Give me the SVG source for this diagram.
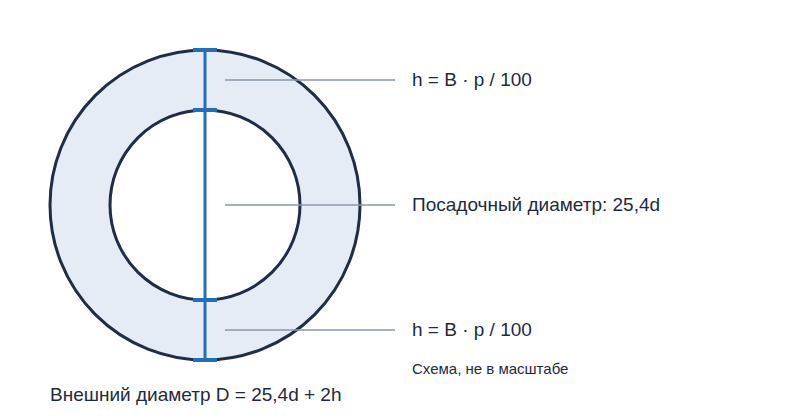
<svg xmlns="http://www.w3.org/2000/svg" width="800" height="420" viewBox="0 0 800 420">
<style>
.lbl{font-family:"Liberation Sans",Arial,sans-serif;font-size:19px;fill:#1f2a3c}
.note{font-family:"Liberation Sans",Arial,sans-serif;font-size:15px;fill:#1f2a3c}
.lead{stroke:#8a97a8;stroke-width:1.5;fill:none}
.dim{stroke:#1f6fbf;stroke-width:3;fill:none}
.tick{stroke:#1f6fbf;stroke-width:4;fill:none}
</style>
<rect width="800" height="420" fill="#ffffff"/>
<g id="outer-ring">
<circle cx="205" cy="205" r="155" fill="#e6ecf6" stroke="#1f2d45" stroke-width="3"/>
</g>
<g id="inner-bore">
<circle cx="205" cy="205" r="95" fill="#ffffff" stroke="#1f2d45" stroke-width="3"/>
</g>
<g id="connectors">
<line class="dim" x1="205" y1="50" x2="205" y2="360"/>
<line class="tick" x1="193" y1="50" x2="217" y2="50"/>
<line class="tick" x1="193" y1="110" x2="217" y2="110"/>
<line class="tick" x1="193" y1="300" x2="217" y2="300"/>
<line class="tick" x1="193" y1="360" x2="217" y2="360"/>
<line class="lead" x1="225" y1="80" x2="395" y2="80"/>
<line class="lead" x1="225" y1="205" x2="395" y2="205"/>
<line class="lead" x1="225" y1="330" x2="395" y2="330"/>
</g>
<g id="label-top"><text class="lbl" x="412" y="86">h = B · p / 100</text></g>
<g id="label-mid"><text class="lbl" x="412" y="211">Посадочный диаметр: 25,4d</text></g>
<g id="label-bottom"><text class="lbl" x="412" y="336">h = B · p / 100</text></g>
<g id="note"><text class="note" x="412" y="374">Схема, не в масштабе</text></g>
<g id="outer-label"><text class="lbl" x="50" y="401">Внешний диаметр D = 25,4d + 2h</text></g>
</svg>
